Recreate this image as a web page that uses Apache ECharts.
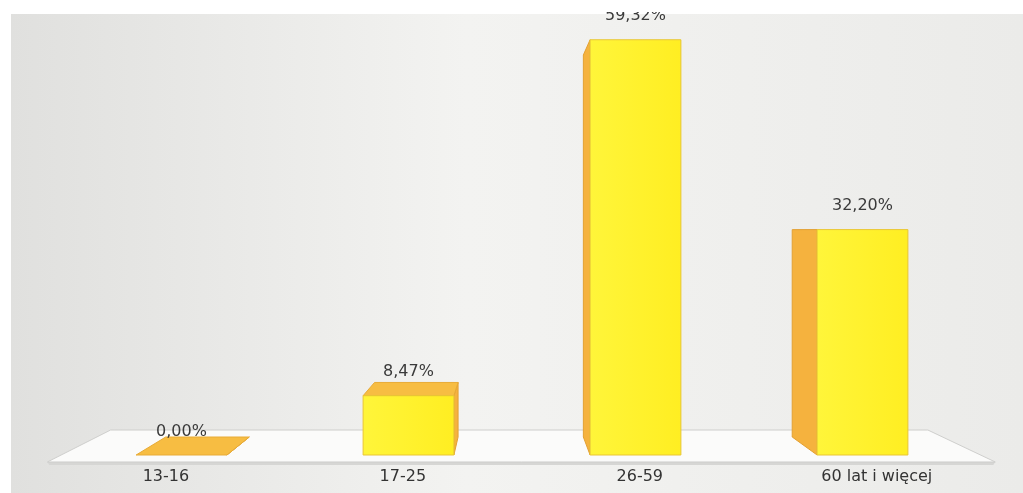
<!DOCTYPE html>
<html>
<head>
<meta charset="utf-8">
<script src="https://cdn.jsdelivr.net/npm/echarts@6/dist/echarts.min.js"></script>
<style>
html,body{margin:0;padding:0;background:#ffffff;}
#chart{width:1023px;height:493px;}
</style>
</head>
<body>
<div id="chart"></div>
<script>
// ---- data ----
const categories = ['13-16', '17-25', '26-59', '60 lat i więcej'];
const values = [0.00, 8.47, 59.32, 32.20];
const valueLabels = values.map(v => v.toFixed(2).replace('.', ',') + '%');

// ---- style / layout constants ----
const VX = 506, VY = 230;          // perspective vanishing point (px)
const BAR_DEPTH = 0.92;            // back face scale of bars
const FLOOR_FRONT = 1.031, FLOOR_BACK = 0.889;
const FONT = 'DejaVu Sans';

function persp(p, k) {
  return [VX + (p[0] - VX) * k, VY + (p[1] - VY) * k];
}

function renderFloor(params, api) {
  const band = api.size([1, 0])[0];
  const c0 = api.coord([0, 0]);
  const cN = api.coord([categories.length - 1, 0]);
  const l = [c0[0] - 0.53 * band, c0[1]];
  const r = [cN[0] + 0.52 * band, cN[1]];
  const fl = persp(l, FLOOR_FRONT), fr = persp(r, FLOOR_FRONT);
  const bl = persp(l, FLOOR_BACK), br = persp(r, FLOOR_BACK);
  const children = [
    { type: 'polygon', shape: { points: [fl, fr, [fr[0] - 2, fr[1] + 3], [fl[0] + 2, fl[1] + 3]] },
      style: { fill: '#d6d6d4' } },
    { type: 'polygon', shape: { points: [fl, fr, br, bl] },
      style: { fill: '#fbfbfa', stroke: '#cfcfcd', lineWidth: 1 } }
  ];
  const n = categories.length;
  for (let i = 0; i < n; i++) {
    const t = (i + 0.5) / n;
    children.push({
      type: 'text',
      style: {
        x: fl[0] + (fr[0] - fl[0]) * t,
        y: fl[1] + 15,
        text: categories[i],
        fill: '#333333',
        font: '16px "' + FONT + '"',
        align: 'center',
        verticalAlign: 'middle'
      }
    });
  }
  return { type: 'group', children: children };
}

function renderBar(params, api) {
  const i = api.value(0), v = api.value(1);
  const top = api.coord([i, v]);
  const base = api.coord([i, 0]);
  const w = api.size([1, 0])[0] * 0.40;
  const xl = top[0] - w / 2, xr = top[0] + w / 2, yt = top[1], yb = base[1];
  const btl = persp([xl, yt], BAR_DEPTH), btr = persp([xr, yt], BAR_DEPTH);
  const bbl = persp([xl, yb], BAR_DEPTH), bbr = persp([xr, yb], BAR_DEPTH);
  const children = [];
  if (btl[0] < xl) {
    children.push({ type: 'polygon', shape: { points: [[xl, yt], btl, bbl, [xl, yb]] },
      style: { fill: '#f5b23e', stroke: '#e3a032', lineWidth: 1 } });
  }
  if (btr[0] > xr) {
    children.push({ type: 'polygon', shape: { points: [[xr, yt], btr, bbr, [xr, yb]] },
      style: { fill: '#f5b23e', stroke: '#e3a032', lineWidth: 1 } });
  }
  if (btl[1] < yt) {
    children.push({ type: 'polygon', shape: { points: [[xl, yt], [xr, yt], btr, btl] },
      style: { fill: '#f7bd42', stroke: '#e8ab36', lineWidth: 1 } });
  }
  if (yb - yt > 0.5) {
    children.push({ type: 'rect', shape: { x: xl, y: yt, width: w, height: yb - yt },
      style: {
        fill: new echarts.graphic.LinearGradient(0, 0, 1, 0, [
          { offset: 0, color: '#fff53a' }, { offset: 1, color: '#ffee22' }
        ]),
        stroke: '#e9c634', lineWidth: 1
      } });
  }
  children.push({
    type: 'text',
    style: {
      x: top[0], y: yt - 23.5,
      text: valueLabels[i],
      fill: '#3a3a3a',
      font: '16px "' + FONT + '"',
      align: 'center', verticalAlign: 'middle'
    }
  });
  return { type: 'group', children: children };
}

const chart = echarts.init(document.getElementById('chart'), null, { renderer: 'canvas' });
chart.setOption({
  animation: false,
  backgroundColor: '#ffffff',
  graphic: [
    { type: 'rect', z: -10, silent: true,
      shape: { x: 11, y: 14, width: 1012, height: 479 },
      style: {
        fill: new echarts.graphic.LinearGradient(0, 0, 1, 0, [
          { offset: 0, color: '#e0e0de' },
          { offset: 0.45, color: '#f3f3f1' },
          { offset: 1, color: '#ebebe9' }
        ])
      } },
    { type: 'rect', z: 100, silent: true,
      shape: { x: 0, y: 0, width: 1023, height: 12 },
      style: { fill: '#ffffff' } }
  ],
  grid: { left: 68, right: 47, top: 35, bottom: 38 },
  xAxis: { type: 'category', data: categories, show: false },
  yAxis: { type: 'value', min: 0, max: 60, show: false },
  series: [
    { type: 'custom', z: 1, renderItem: renderFloor, data: [[0, 0]], silent: true },
    { type: 'custom', z: 2, renderItem: renderBar,
      data: values.map((v, i) => [i, v]), encode: { x: 0, y: 1 } }
  ]
});
</script>
</body>
</html>
